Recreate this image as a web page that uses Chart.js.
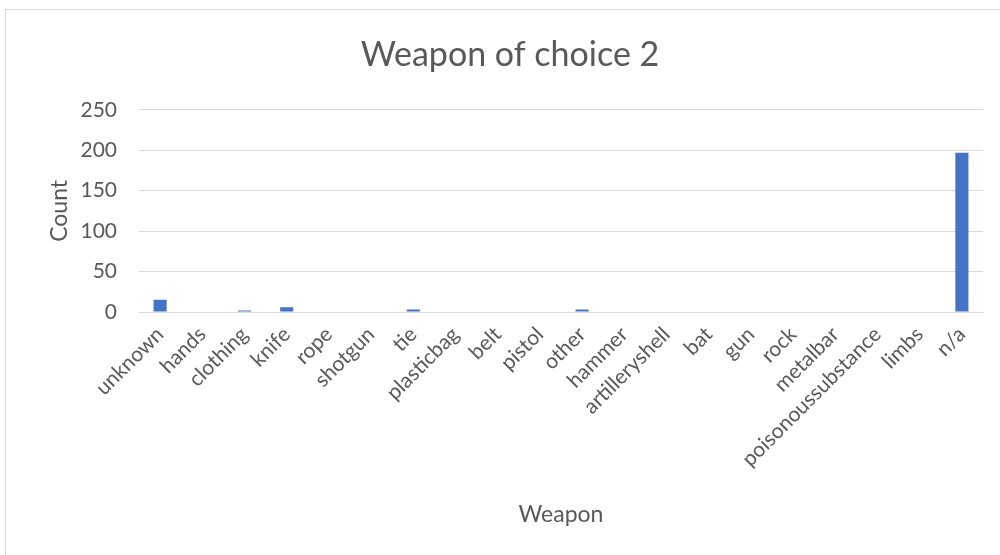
<!DOCTYPE html>
<html>
<head>
<meta charset="utf-8">
<script src="https://cdn.jsdelivr.net/npm/chart.js@4"></script>
<style>
  html, body { margin: 0; padding: 0; background: #fff; overflow: hidden; }
  #frame {
    position: absolute; left: 5px; top: 9px;
    width: 1008px; height: 600px;
    border: 1px solid #d9d9d9; box-sizing: border-box;
  }
  #frame canvas { position: absolute; left: 0; top: 0; }
</style>
</head>
<body>
<div id="frame"><canvas id="weaponChart" width="1008" height="546"></canvas></div>
<script>
// weapon categories and counts
var weapons = ["unknown", "hands", "clothing", "knife", "rope", "shotgun", "tie", "plasticbag",
    "belt", "pistol", "other", "hammer", "artilleryshell", "bat", "gun", "rock", "metalbar",
    "poisonoussubstance", "limbs", "n/a"];
var counts = [15, 0, 2, 6, 0, 0, 3, 0, 0, 0, 3, 0, 0, 0, 0, 0, 0, 0, 0, 197];
var yTicks = [0, 50, 100, 150, 200, 250];

var textColor = "#595959";
var fontFamily = "Lato, 'Open Sans', sans-serif";

const ctx = document.getElementById("weaponChart").getContext("2d");
const chart = new Chart(ctx, {
    type: "bar",
    data: {
        labels: weapons,
        datasets: [
            {label: "Count", data: counts, backgroundColor: "#4472c4",
             categoryPercentage: 1, barPercentage: 0.31}
        ]
    },
    options: {
        responsive: false,
        animation: false,
        // equal side padding keeps the title centred on the frame
        layout: {padding: {left: 31, right: 31, top: 0, bottom: 0}},
        plugins: {
            legend: {display: false},
            tooltip: {enabled: false},
            title: {
                display: true,
                text: "Weapon of choice 2",
                color: textColor,
                font: {family: fontFamily, size: 34, weight: "normal"},
                padding: {top: 25, bottom: 34}
            }
        },
        scales: {
            x: {
                grid: {display: false, drawTicks: false},
                border: {color: "#d9d9d9", width: 1},
                ticks: {
                    color: textColor,
                    font: {family: fontFamily, size: 21},
                    minRotation: 45, maxRotation: 45,
                    autoSkip: false, padding: 10
                },
                title: {
                    display: true, text: "Weapon", color: textColor,
                    font: {family: fontFamily, size: 23},
                    padding: {top: 0, bottom: 28}
                },
                afterFit: function (scale) { scale.height = 244; }
            },
            y: {
                min: 0, max: 250,
                afterBuildTicks: function (scale) {
                    scale.ticks = yTicks.map(v => ({value: v}));
                },
                grid: {color: "#d9d9d9", drawTicks: false},
                border: {display: false},
                ticks: {color: textColor, font: {family: fontFamily, size: 21}, padding: 22},
                title: {
                    display: true, text: "Count", color: textColor,
                    font: {family: fontFamily, size: 23},
                    padding: {top: 9, bottom: 0}
                },
                afterFit: function (scale) { scale.width = 102; }
            }
        }
    }
});
</script>
</body>
</html>
